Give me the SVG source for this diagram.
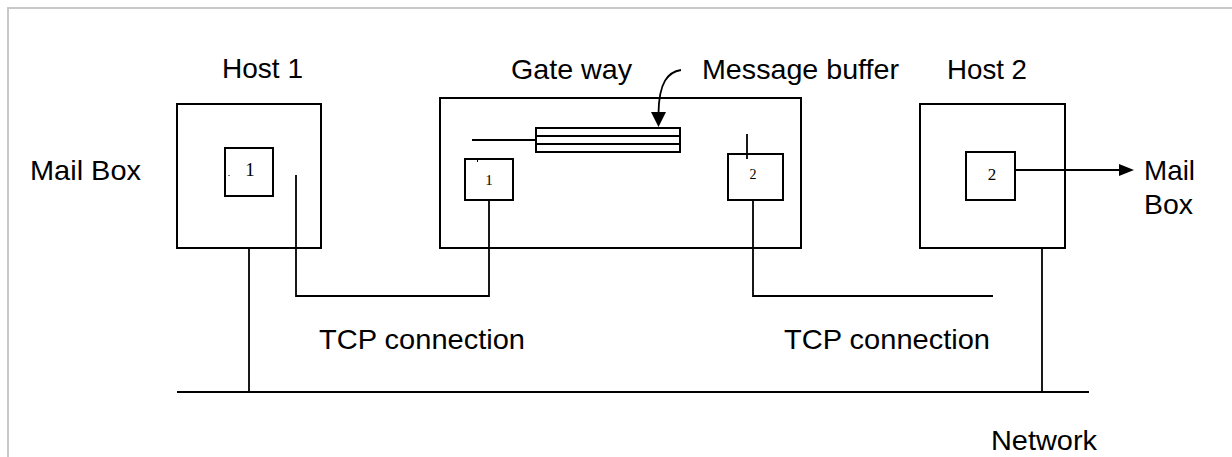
<svg xmlns="http://www.w3.org/2000/svg" width="1232" height="457" viewBox="0 0 1232 457">
<style>
.box{fill:none;stroke:#000;stroke-width:2}
.ln{fill:none;stroke:#000;stroke-width:1.8}
.lbl{font-family:"Liberation Sans",Arial,sans-serif;font-size:28px;fill:#000}
.num{font-family:"Liberation Serif","Times New Roman",serif;fill:#000;text-anchor:middle}
</style>
<rect x="0" y="0" width="1232" height="457" fill="#fff"/>
<path d="M8,457 V8 H1232" fill="none" stroke="#c8c8c8" stroke-width="2"/>

<text class="lbl" x="30" y="180" textLength="111" lengthAdjust="spacingAndGlyphs">Mail Box</text>

<g id="host1">
<rect class="box" x="177" y="104" width="144" height="144"/>
<rect class="box" x="225" y="148" width="48" height="48"/>
<text class="num" x="250" y="176" font-size="19">1</text>
<rect x="228.5" y="175" width="1" height="1" fill="#000"/>
<text class="lbl" x="222" y="78" textLength="81" lengthAdjust="spacingAndGlyphs">Host 1</text>
</g>

<g id="gateway">
<rect class="box" x="440" y="98" width="361" height="150"/>
<text class="lbl" x="511" y="79" textLength="121" lengthAdjust="spacingAndGlyphs">Gate way</text>
<rect class="box" x="465" y="159" width="48" height="41"/>
<text class="num" x="489" y="185" font-size="15">1</text>
<rect x="477" y="160" width="1" height="2" fill="#000"/>
<rect class="box" x="728" y="154" width="55" height="46"/>
<text class="num" x="753" y="179" font-size="14">2</text>
</g>

<g id="buffer">
<rect class="box" x="536" y="128" width="144" height="24"/>
<line class="ln" x1="536" y1="136" x2="680" y2="136"/>
<line class="ln" x1="536" y1="144" x2="680" y2="144"/>
<text class="lbl" x="702" y="79" textLength="197" lengthAdjust="spacingAndGlyphs">Message buffer</text>
<path class="ln" d="M681,70 C668,72 659,82 658.5,113"/>
<polygon points="651,112 666,112 658.5,127" fill="#000"/>
</g>

<g id="host2">
<rect class="box" x="920" y="104" width="145" height="144"/>
<rect class="box" x="966" y="152" width="49" height="48"/>
<text class="num" x="992" y="180" font-size="17">2</text>
<text class="lbl" x="947" y="79" textLength="80" lengthAdjust="spacingAndGlyphs">Host 2</text>
</g>

<g id="mailbox2">
<text class="lbl" x="1144" y="180" textLength="51" lengthAdjust="spacingAndGlyphs">Mail</text>
<text class="lbl" x="1144" y="214" textLength="49" lengthAdjust="spacingAndGlyphs">Box</text>
</g>

<g id="network">
<line x1="177" y1="392" x2="1089" y2="392" stroke="#000" stroke-width="2"/>
<text class="lbl" x="991" y="450" textLength="106" lengthAdjust="spacingAndGlyphs">Network</text>
</g>

<g id="connectors">
<line class="ln" x1="1015" y1="170" x2="1120" y2="170"/>
<polygon points="1119,164 1134,170 1119,176" fill="#000"/>
<line class="ln" x1="472" y1="140" x2="536" y2="140"/>
<line class="ln" x1="747" y1="134" x2="747" y2="159"/>
<polyline class="ln" points="296,175 296,296 489,296 489,200"/>
<polyline class="ln" points="753,200 753,296 993,296"/>
<line class="ln" x1="249" y1="248" x2="249" y2="392"/>
<line class="ln" x1="1042" y1="248" x2="1042" y2="392"/>
<text class="lbl" x="319" y="349" textLength="206" lengthAdjust="spacingAndGlyphs">TCP connection</text>
<text class="lbl" x="784" y="349" textLength="206" lengthAdjust="spacingAndGlyphs">TCP connection</text>
</g>
</svg>
